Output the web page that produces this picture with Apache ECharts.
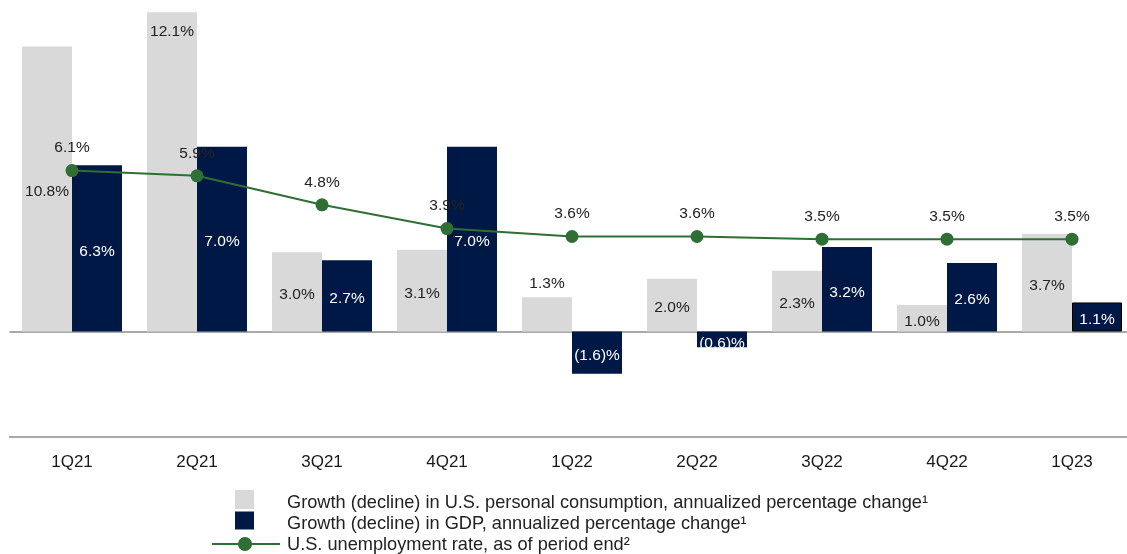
<!DOCTYPE html>
<html>
<head>
<meta charset="utf-8">
<script src="https://cdn.jsdelivr.net/npm/echarts@6/dist/echarts.min.js"></script>
<style>
html,body{margin:0;padding:0;background:#fff;overflow:hidden;}
#chart{width:1140px;height:554px;}
</style>
</head>
<body>
<div id="chart"></div>
<script>
const categories = ['1Q21','2Q21','3Q21','4Q21','1Q22','2Q22','3Q22','4Q22','1Q23'];
const consumption = [10.8, 12.1, 3.0, 3.1, 1.3, 2.0, 2.3, 1.0, 3.7];
const gdp = [6.3, 7.0, 2.7, 7.0, -1.6, -0.6, 3.2, 2.6, 1.1];
const unemployment = [6.1, 5.9, 4.8, 3.9, 3.6, 3.6, 3.5, 3.5, 3.5];
const legendNames = [
  'Growth (decline) in U.S. personal consumption, annualized percentage change\u00B9',
  'Growth (decline) in GDP, annualized percentage change\u00B9',
  'U.S. unemployment rate, as of period end\u00B2'
];

const GRAY = '#d9d9d9';
const NAVY = '#001845';
const GREEN = '#2f6e34';
const FONT = 'Liberation Sans, Arial, sans-serif';

function fmt(v) {
  return v < 0 ? '(' + Math.abs(v).toFixed(1) + ')%' : v.toFixed(1) + '%';
}

const consData = consumption.map((v, i) => {
  const d = { value: v };
  if (i === 1) d.label = { position: 'insideTop', offset: [0, 6] };
  if (i === 4) d.label = { position: 'top', distance: 5, offset: [0, 0] };
  return d;
});
const gdpData = gdp.map((v, i) => {
  const d = { value: v };
  if (i === 8) d.itemStyle = { borderColor: '#000', borderWidth: 1 };
  if (i === 5) d.label = { offset: [0, 4] };
  return d;
});

const chart = echarts.init(document.getElementById('chart'), null, { renderer: 'canvas' });
chart.setOption({
  animation: false,
  backgroundColor: '#fff',
  textStyle: { fontFamily: FONT },
  grid: { left: 9.5, width: 1125, top: 1.7, height: 435.3, containLabel: false },
  xAxis: {
    type: 'category',
    data: categories,
    axisLine: { onZero: false, lineStyle: { color: '#8c8c8c', width: 1.5 } },
    axisTick: { alignWithLabel: true, length: 8, lineStyle: { color: '#8c8c8c', width: 1.5 } },
    axisLabel: { color: '#1a1a1a', fontSize: 17, fontFamily: FONT, margin: 17 },
    splitLine: { show: false }
  },
  yAxis: {
    type: 'value',
    min: -4,
    max: 12.5,
    show: false,
    splitLine: { show: false }
  },
  series: [
    {
      name: legendNames[0],
      type: 'bar',
      data: consData,
      barWidth: 50,
      barGap: '0%',
      itemStyle: { color: GRAY },
      label: {
        show: true, position: 'inside', offset: [0, 3],
        color: '#222', fontSize: 15.5, fontFamily: FONT,
        formatter: p => fmt(p.value)
      },
      markLine: {
        silent: true, symbol: 'none', z: 1,
        label: { show: false },
        lineStyle: { color: '#8c8c8c', width: 1.5, type: 'solid' },
        data: [{ yAxis: 0 }]
      },
      z: 2
    },
    {
      name: legendNames[1],
      type: 'bar',
      data: gdpData,
      barWidth: 50,
      barGap: '0%',
      itemStyle: { color: NAVY },
      label: {
        show: true, position: 'inside', offset: [0, 3],
        color: '#fff', fontSize: 15.5, fontFamily: FONT,
        formatter: p => fmt(p.value)
      },
      z: 2
    },
    {
      name: legendNames[2],
      type: 'line',
      data: unemployment,
      symbol: 'circle',
      symbolSize: 13,
      itemStyle: { color: GREEN },
      lineStyle: { color: GREEN, width: 2 },
      label: {
        show: true, position: 'top', distance: 8,
        color: '#222', fontSize: 15.5, fontFamily: FONT,
        formatter: p => fmt(p.value)
      },
      z: 5
    }
  ],
  graphic: [
    { type: 'rect', shape: { x: 235, y: 490, width: 19, height: 19 }, style: { fill: GRAY } },
    { type: 'rect', shape: { x: 235, y: 511.5, width: 19, height: 18 }, style: { fill: NAVY } },
    { type: 'line', shape: { x1: 212, y1: 544, x2: 280, y2: 544 }, style: { stroke: GREEN, lineWidth: 2 } },
    { type: 'circle', shape: { cx: 245, cy: 544, r: 7 }, style: { fill: GREEN } },
    { type: 'text', style: { x: 287, y: 502.5, text: legendNames[0], font: '18.2px ' + FONT, fill: '#222', verticalAlign: 'middle', textVerticalAlign: 'middle' } },
    { type: 'text', style: { x: 287, y: 523.5, text: legendNames[1], font: '18.2px ' + FONT, fill: '#222', verticalAlign: 'middle', textVerticalAlign: 'middle' } },
    { type: 'text', style: { x: 287, y: 544.5, text: legendNames[2], font: '18.2px ' + FONT, fill: '#222', verticalAlign: 'middle', textVerticalAlign: 'middle' } }
  ]
});
</script>
</body>
</html>
